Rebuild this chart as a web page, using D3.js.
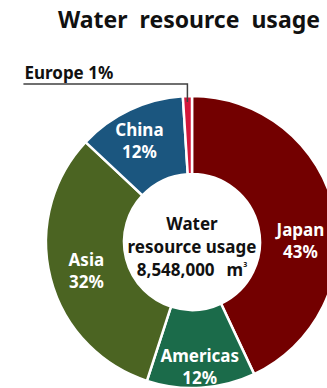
<!DOCTYPE html>
<html>
<head>
<meta charset="utf-8">
<script src="https://cdnjs.cloudflare.com/ajax/libs/d3/7.8.5/d3.min.js"></script>
<style>
  body { margin: 0; background: #fff; }
  svg { display: block; font-family: "Noto Sans", "Open Sans", sans-serif; }
</style>
</head>
<body>
<div id="chart"></div>
<script>
// regions and their share of water use (%)
var regions = ["Japan", "Americas", "Asia", "China", "Europe"];
var shares = [43, 12, 32, 12, 1];
var colors = ["#730000", "#1b6b4a", "#4b6422", "#1b567f", "#d4163a"];
var titleText = "Water resource usage";
var centerLines = ["Water", "resource usage"];
var totalText = "8,548,000";
var unitText = "m";

// small nudges so the labels sit where the original ones do
var labelNudge = [[4, 20], [1, 16], [-2, 0], [-7, -6], [0, 0]];

var width = 327, height = 388;
var cx = 192, cy = 242;
var outerR = 146, innerR = 68;

var svg = d3.select("#chart").append("svg")
    .attr("width", width)
    .attr("height", height);

svg.append("text")
    .attr("x", 189)
    .attr("y", 28)
    .attr("text-anchor", "middle")
    .style("font-size", "23px")
    .style("font-weight", "bold")
    .style("word-spacing", "6px")
    .attr("fill", "#111")
    .text(titleText);

var data = regions.map(function(r, i) {
    return { name: r, value: shares[i], color: colors[i], nudge: labelNudge[i] };
});

var pie = d3.pie().sort(null).value(function(d) { return d.value; });
var arc = d3.arc().innerRadius(innerR).outerRadius(outerR);

var g = svg.append("g").attr("transform", "translate(" + cx + "," + cy + ")");

var slices = pie(data);

g.selectAll("path")
    .data(slices)
  .enter().append("path")
    .attr("d", arc)
    .attr("fill", function(d) { return d.data.color; })
    .attr("stroke", "#fff")
    .attr("stroke-width", 2.5);

// labels inside the big slices
var inside = slices.filter(function(d) { return d.data.value > 5; });
var lab = g.selectAll(".lab")
    .data(inside)
  .enter().append("text")
    .attr("class", "lab")
    .attr("text-anchor", "middle")
    .attr("fill", "#fff")
    .style("font-size", "17px")
    .style("font-weight", "bold")
    .attr("transform", function(d) {
        var c = arc.centroid(d);
        return "translate(" + (c[0] + d.data.nudge[0]) + "," + (c[1] + d.data.nudge[1]) + ")";
    });
lab.append("tspan").attr("x", 0).attr("dy", -3).text(function(d) { return d.data.name; });
lab.append("tspan").attr("x", 0).attr("dy", 22).text(function(d) { return d.data.value + "%"; });

// Europe gets a leader line
var eu = slices.filter(function(d) { return d.data.value <= 5; })[0];
var euAngle = (eu.startAngle + eu.endAngle) / 2;
var ex = Math.sin(euAngle) * outerR;
var ey = -Math.cos(euAngle) * outerR;
var lineY = ey - 12;
g.append("path")
    .attr("d", "M" + (ex - 164) + "," + lineY + "H" + ex + "V" + (ey + 6))
    .attr("fill", "none")
    .attr("stroke", "#404040")
    .attr("stroke-width", 1.5);
g.append("text")
    .attr("x", ex - 163)
    .attr("y", lineY - 5)
    .style("font-size", "17px")
    .style("font-weight", "bold")
    .attr("fill", "#111")
    .text(eu.data.name + " " + eu.data.value + "%");

// centre text
var ct = g.append("text")
    .attr("text-anchor", "middle")
    .style("font-size", "17px")
    .style("font-weight", "bold")
    .attr("fill", "#111");
centerLines.forEach(function(t, i) {
    ct.append("tspan").attr("x", 0).attr("y", -12 + i * 23).text(t);
});
var tot = ct.append("tspan").attr("x", 0).attr("y", 34);
tot.append("tspan").text(totalText);
tot.append("tspan").attr("dx", 12).text(unitText);
tot.append("tspan").attr("dy", -9).style("font-size", "7px").text("3");
</script>
</body>
</html>
